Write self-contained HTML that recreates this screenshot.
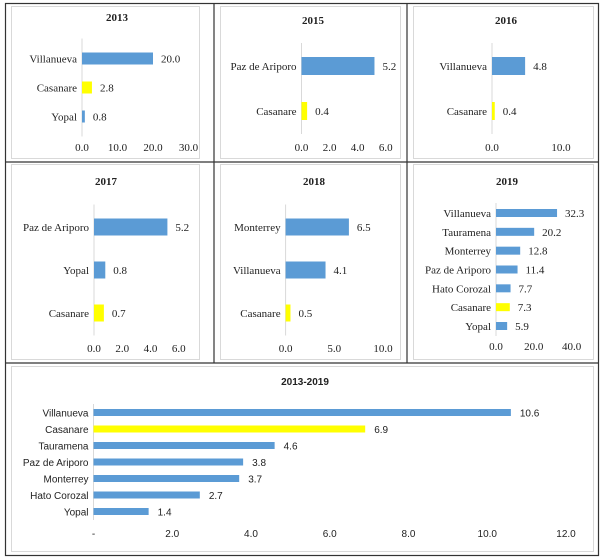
<!DOCTYPE html>
<html><head><meta charset="utf-8"><style>
html,body{margin:0;padding:0;background:#fff}
svg{display:block}
.s{font-family:"Liberation Serif",serif;font-size:11px;fill:#222}
.ss{font-family:"Liberation Sans",sans-serif;font-size:10px;fill:#222}
</style></head><body>
<svg id="c" width="605" height="559" viewBox="0 0 605 559">
<rect x="5.5" y="3.5" width="593" height="552" fill="none" stroke="#333" stroke-width="1.2"/>
<line x1="214" y1="3" x2="214" y2="363" stroke="#333" stroke-width="1.2"/>
<line x1="407" y1="3" x2="407" y2="363" stroke="#333" stroke-width="1.2"/>
<line x1="5" y1="162" x2="599" y2="162" stroke="#333" stroke-width="1.2"/>
<line x1="5" y1="363" x2="599" y2="363" stroke="#333" stroke-width="1.2"/>
</svg>
<script>
const cats2013=["Villanueva","Casanare","Yopal"], vals2013=[20.0,2.8,0.8], ticks2013=[0,10,20,30];
const cats2015=["Paz de Ariporo","Casanare"], vals2015=[5.2,0.4], ticks2015=[0,2,4,6];
const cats2016=["Villanueva","Casanare"], vals2016=[4.8,0.4], ticks2016=[0,10];
const cats2017=["Paz de Ariporo","Yopal","Casanare"], vals2017=[5.2,0.8,0.7], ticks2017=[0,2,4,6];
const cats2018=["Monterrey","Villanueva","Casanare"], vals2018=[6.5,4.1,0.5], ticks2018=[0,5,10];
const cats2019=["Villanueva","Tauramena","Monterrey","Paz de Ariporo","Hato Corozal","Casanare","Yopal"], vals2019=[32.3,20.2,12.8,11.4,7.7,7.3,5.9], ticks2019=[0,20,40];
const catsAll=["Villanueva","Casanare","Tauramena","Paz de Ariporo","Monterrey","Hato Corozal","Yopal"], valsAll=[10.6,6.9,4.6,3.8,3.7,2.7,1.4], ticksAll=[0,2,4,6,8,10,12];

const svg=document.getElementById('c');
const NS='http://www.w3.org/2000/svg';
function mk(t,a){const e=document.createElementNS(NS,t);for(const k in a)e.setAttribute(k,a[k]);svg.appendChild(e);return e;}
function panel(o){
  const box=mk('rect',{x:o.bx,y:o.by,width:o.bw,height:o.bh,fill:'none',stroke:'#d9d9d9'});
  
  
  const t=mk('text',{x:o.tx,y:o.ty,'text-anchor':'middle',class:o.cls,'font-weight':'bold','font-size':o.tfs});
  t.textContent=o.title;
  
  
  const max=o.ticks[o.ticks.length-1];
  const sx=v=>o.x0+(o.x1-o.x0)*v/max;
  const n=o.cats.length;
  const yc=i=>o.y0+(n>1?(o.y1-o.y0)*i/(n-1):0);
  const ax=mk('line',{x1:o.x0,x2:o.x0,y1:o.y0-o.bh2-o.pad,y2:o.y1+o.bh2+o.pad,stroke:'#d9d9d9'});
  
  
  o.cats.forEach((c,i)=>{
    const v=o.vals[i];
    const col=c==='Casanare'?'#ffff00':'#5b9bd5';
    const r=mk('rect',{x:o.x0,y:yc(i)-o.bh2,width:sx(v)-o.x0,height:o.bh2*2,fill:col});
    
    
    const l=mk('text',{x:o.x0-5,y:yc(i)+4,'text-anchor':'end',class:o.cls});
    l.textContent=c;
    
    
    const vl=mk('text',{x:sx(v)+o.vo,y:yc(i)+4,class:o.cls});
    vl.textContent=v.toFixed(1);
    
    
  });
  o.ticks.forEach(tv=>{
    const tl=mk('text',{x:sx(tv),y:o.ty2,'text-anchor':'middle',class:o.cls});
    tl.textContent=(o.dash&&tv===0)?'-':tv.toFixed(1);
    
    
  });
}
panel({id:'p2013',title:'2013',cats:cats2013,vals:vals2013,ticks:ticks2013,bx:11.5,by:6.5,bw:188,bh:152,tx:117,ty:21,tfs:12,cls:'s',x0:82,x1:188.5,y0:58.5,y1:116.5,bh2:6,pad:14,vo:8,ty2:151});
panel({id:'p2015',title:'2015',cats:cats2015,vals:vals2015,ticks:ticks2015,bx:220.5,by:6.5,bw:180,bh:152,tx:313,ty:24,tfs:12,cls:'s',x0:301.5,x1:385.7,y0:66,y1:111,bh2:9,pad:14,vo:8,ty2:151});
panel({id:'p2016',title:'2016',cats:cats2016,vals:vals2016,ticks:ticks2016,bx:413.5,by:6.5,bw:180,bh:152,tx:506,ty:24,tfs:12,cls:'s',x0:492,x1:561,y0:66,y1:111,bh2:9,pad:14,vo:8,ty2:151});
panel({id:'p2017',title:'2017',cats:cats2017,vals:vals2017,ticks:ticks2017,bx:11.5,by:164.5,bw:188,bh:195,tx:106,ty:185,tfs:12,cls:'s',x0:94,x1:178.7,y0:227,y1:313,bh2:8.5,pad:14,vo:8,ty2:352});
panel({id:'p2018',title:'2018',cats:cats2018,vals:vals2018,ticks:ticks2018,bx:220.5,by:164.5,bw:180,bh:195,tx:314,ty:185,tfs:12,cls:'s',x0:285.6,x1:383,y0:227,y1:313,bh2:8.5,pad:14,vo:8,ty2:352});
panel({id:'p2019',title:'2019',cats:cats2019,vals:vals2019,ticks:ticks2019,bx:413.5,by:164.5,bw:180,bh:195,tx:507,ty:185,tfs:12,cls:'s',x0:496,x1:571.6,y0:213,y1:326,bh2:4,pad:6,vo:8,ty2:350});
panel({id:'pall',title:'2013-2019',cats:catsAll,vals:valsAll,ticks:ticksAll,bx:11.5,by:366.5,bw:582,bh:185,tx:305,ty:385,tfs:11,cls:'ss',x0:93.5,x1:566,y0:412.5,y1:511.5,bh2:3.5,pad:5,vo:9,ty2:537,dash:true});
</script>
</body></html>
